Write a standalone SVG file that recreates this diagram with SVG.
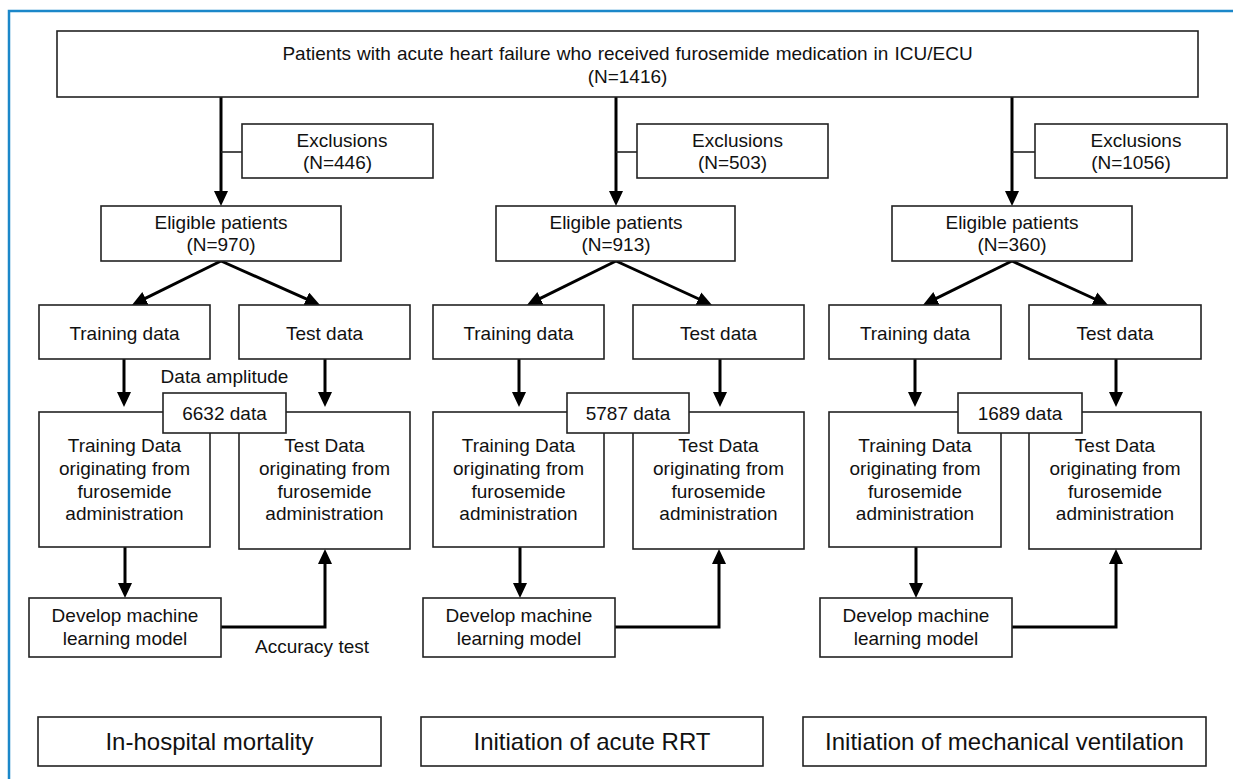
<svg xmlns="http://www.w3.org/2000/svg" width="1233" height="779" viewBox="0 0 1233 779">
<style>
.box{fill:#fff;stroke:#222;stroke-width:1.6}
.t{font-family:"Liberation Sans",Arial,sans-serif;font-size:19px;fill:#111;text-anchor:middle}
.big{font-size:24px}
.arr{fill:none;stroke:#000;stroke-width:3;marker-end:url(#ah)}
.stub{fill:none;stroke:#222;stroke-width:1.6}
.frame{fill:none;stroke:#1b87c9;stroke-width:2.5}
</style>
<defs>
<marker id="ah" viewBox="0 0 15 14" refX="3" refY="7" markerWidth="15" markerHeight="14" markerUnits="userSpaceOnUse" orient="auto">
<path d="M0,0 L15,7 L0,14 z" fill="#000"/>
</marker>
</defs>
<rect width="1233" height="779" fill="#fff"/>
<path class="frame" d="M9,779 V11 H1233"/>

<g id="connectors">
<path class="arr" d="M221,97 V194"/>
<path class="arr" d="M616,97 V194"/>
<path class="arr" d="M1012,97 V194"/>
<path class="stub" d="M221,152 H242"/>
<path class="stub" d="M616,152 H637"/>
<path class="stub" d="M1012,152 H1035"/>
<path class="arr" d="M221,261 L142.76,299.68"/>
<path class="arr" d="M221,261 L309.03,300.13"/>
<path class="arr" d="M616,261 L537.76,299.68"/>
<path class="arr" d="M616,261 L701.09,300"/>
<path class="arr" d="M1012,261 L933.76,299.68"/>
<path class="arr" d="M1012,261 L1097.09,300"/>
<path class="arr" d="M124,359 V395"/>
<path class="arr" d="M325,359 V395"/>
<path class="arr" d="M519,359 V395"/>
<path class="arr" d="M720,359 V395"/>
<path class="arr" d="M915,359 V395"/>
<path class="arr" d="M1116,359 V395"/>
<path class="arr" d="M125,547 V586"/>
<path class="arr" d="M520,547 V586"/>
<path class="arr" d="M916,547 V586"/>
<path class="arr" d="M221,627 H325 V561"/>
<path class="arr" d="M615,627 H719 V561"/>
<path class="arr" d="M1012,627 H1116 V561"/>
</g>

<g id="top">
<rect class="box" x="57" y="31" width="1141" height="66"/>
<text class="t" x="627.5" y="60" word-spacing="0.8">Patients with acute heart failure who received furosemide medication in ICU/ECU</text>
<text class="t" x="627.5" y="83">(N=1416)</text>
</g>

<g id="excl1"><rect class="box" x="242" y="124" width="191" height="54"/>
<text class="t" x="342" y="147">Exclusions</text><text class="t" x="337.5" y="169">(N=446)</text></g>
<g id="excl2"><rect class="box" x="637" y="124" width="191" height="54"/>
<text class="t" x="737.5" y="147">Exclusions</text><text class="t" x="732.5" y="169">(N=503)</text></g>
<g id="excl3"><rect class="box" x="1035" y="124" width="192" height="54"/>
<text class="t" x="1136" y="147">Exclusions</text><text class="t" x="1131" y="169">(N=1056)</text></g>

<g id="elig1"><rect class="box" x="101" y="206" width="240" height="55"/>
<text class="t" x="221" y="229">Eligible patients</text><text class="t" x="221" y="251">(N=970)</text></g>
<g id="elig2"><rect class="box" x="496" y="206" width="239" height="55"/>
<text class="t" x="616" y="229">Eligible patients</text><text class="t" x="616" y="251">(N=913)</text></g>
<g id="elig3"><rect class="box" x="892" y="206" width="240" height="55"/>
<text class="t" x="1012" y="229">Eligible patients</text><text class="t" x="1012" y="251">(N=360)</text></g>

<g id="train1"><rect class="box" x="39" y="305" width="171" height="54"/><text class="t" x="124.5" y="340">Training data</text></g>
<g id="test1"><rect class="box" x="239" y="305" width="171" height="54"/><text class="t" x="324.5" y="340">Test data</text></g>
<g id="train2"><rect class="box" x="433" y="305" width="171" height="54"/><text class="t" x="518.5" y="340">Training data</text></g>
<g id="test2"><rect class="box" x="633" y="305" width="171" height="54"/><text class="t" x="718.5" y="340">Test data</text></g>
<g id="train3"><rect class="box" x="829" y="305" width="172" height="54"/><text class="t" x="915" y="340">Training data</text></g>
<g id="test3"><rect class="box" x="1029" y="305" width="172" height="54"/><text class="t" x="1115" y="340">Test data</text></g>

<g id="amp-label"><text class="t" x="224.5" y="383">Data amplitude</text></g>

<g id="trainbig1"><rect class="box" x="39" y="412" width="171" height="135"/>
<text class="t" x="124.5" y="452">Training Data</text><text class="t" x="124.5" y="475">originating from</text><text class="t" x="124.5" y="498">furosemide</text><text class="t" x="124.5" y="520">administration</text></g>
<g id="testbig1"><rect class="box" x="239" y="412" width="171" height="137"/>
<text class="t" x="324.5" y="452">Test Data</text><text class="t" x="324.5" y="475">originating from</text><text class="t" x="324.5" y="498">furosemide</text><text class="t" x="324.5" y="520">administration</text></g>
<g id="trainbig2"><rect class="box" x="433" y="412" width="171" height="135"/>
<text class="t" x="518.5" y="452">Training Data</text><text class="t" x="518.5" y="475">originating from</text><text class="t" x="518.5" y="498">furosemide</text><text class="t" x="518.5" y="520">administration</text></g>
<g id="testbig2"><rect class="box" x="633" y="412" width="171" height="137"/>
<text class="t" x="718.5" y="452">Test Data</text><text class="t" x="718.5" y="475">originating from</text><text class="t" x="718.5" y="498">furosemide</text><text class="t" x="718.5" y="520">administration</text></g>
<g id="trainbig3"><rect class="box" x="829" y="412" width="172" height="135"/>
<text class="t" x="915" y="452">Training Data</text><text class="t" x="915" y="475">originating from</text><text class="t" x="915" y="498">furosemide</text><text class="t" x="915" y="520">administration</text></g>
<g id="testbig3"><rect class="box" x="1029" y="412" width="172" height="137"/>
<text class="t" x="1115" y="452">Test Data</text><text class="t" x="1115" y="475">originating from</text><text class="t" x="1115" y="498">furosemide</text><text class="t" x="1115" y="520">administration</text></g>

<g id="data1"><rect class="box" x="163" y="393" width="123" height="40"/><text class="t" x="224.5" y="420">6632 data</text></g>
<g id="data2"><rect class="box" x="567" y="393" width="122" height="40"/><text class="t" x="628" y="420">5787 data</text></g>
<g id="data3"><rect class="box" x="958" y="393" width="124" height="40"/><text class="t" x="1020" y="420">1689 data</text></g>

<g id="dev1"><rect class="box" x="29" y="598" width="192" height="59"/>
<text class="t" x="125" y="622">Develop machine</text><text class="t" x="125" y="645">learning model</text></g>
<g id="dev2"><rect class="box" x="423" y="598" width="192" height="59"/>
<text class="t" x="519" y="622">Develop machine</text><text class="t" x="519" y="645">learning model</text></g>
<g id="dev3"><rect class="box" x="820" y="598" width="192" height="59"/>
<text class="t" x="916" y="622">Develop machine</text><text class="t" x="916" y="645">learning model</text></g>

<g id="acc-label"><text class="t" x="312" y="653">Accuracy test</text></g>

<g id="out1"><rect class="box" x="38" y="717" width="343" height="49"/><text class="t big" x="209.5" y="750">In-hospital mortality</text></g>
<g id="out2"><rect class="box" x="421" y="717" width="342" height="49"/><text class="t big" x="592" y="750">Initiation of acute RRT</text></g>
<g id="out3"><rect class="box" x="803" y="717" width="403" height="49"/><text class="t big" x="1004.5" y="750">Initiation of mechanical ventilation</text></g>
</svg>
